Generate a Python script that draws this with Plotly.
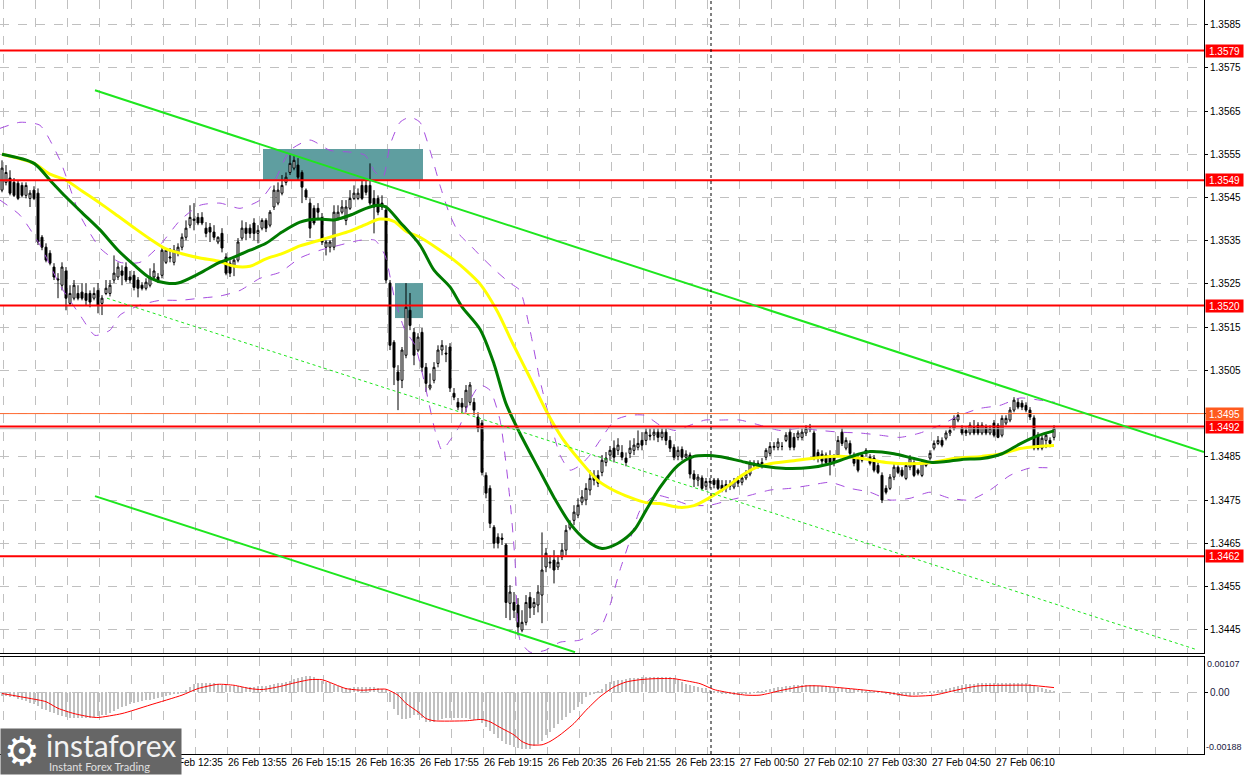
import plotly.graph_objects as go

# ------------------------------------------------------------------ data
bar_index = list(range(264))

opens = [
1.35467,1.35485,1.35495,1.35485,1.35483,1.35478,1.35455,1.35448,1.35467,1.3546,
1.35358,1.35335,1.35321,1.35289,1.35259,1.35247,1.3528,1.35205,1.35217,1.35228,
1.35231,1.35228,1.35228,1.35217,1.35235,1.35205,1.35228,1.35228,1.35259,1.35266,
1.3528,1.35289,1.35266,1.3527,1.35259,1.35247,1.3524,1.35247,1.35266,1.35266,
1.3527,1.353,1.3531,1.353,1.35321,1.35335,1.35358,1.35386,1.35397,1.35404,
1.35404,1.35379,1.35381,1.3537,1.35347,1.35367,1.35312,1.35298,1.35289,1.35305,
1.35356,1.35379,1.35379,1.35391,1.35367,1.35379,1.35397,1.35386,1.35428,1.35437,
1.3546,1.35485,1.35508,1.35518,1.35525,1.35508,1.35467,1.35437,1.35425,1.35425,
1.35404,1.35335,1.35335,1.35335,1.35402,1.35416,1.35397,1.35425,1.35448,1.35448,
1.35478,1.35478,1.35478,1.35448,1.35448,1.35437,1.35421,1.35252,1.35115,1.35046,
1.35027,1.35085,1.35189,1.35138,1.35097,1.35138,1.35057,1.35009,1.35027,1.35066,
1.35097,1.3509,1.35104,1.34997,1.34976,1.34974,1.34965,1.34976,1.34976,1.34942,
1.34928,1.34807,1.34777,1.34687,1.34664,1.34662,1.34646,1.34511,1.34513,1.34507,
1.34449,1.34467,1.34525,1.34502,1.34507,1.3453,1.34595,1.34604,1.34611,1.34595,
1.34618,1.34634,1.34685,1.34703,1.34715,1.34745,1.3475,1.34773,1.34807,1.34807,
1.34814,1.34837,1.34854,1.3487,1.34865,1.3486,1.34847,1.34858,1.34865,1.34872,
1.34888,1.34888,1.349,1.349,1.34907,1.34895,1.34907,1.34888,1.34872,1.34851,
1.34867,1.34849,1.34854,1.3481,1.34796,1.34801,1.34782,1.34791,1.34796,1.34796,
1.34784,1.34777,1.34786,1.3478,1.34796,1.34791,1.34801,1.3481,1.34835,1.34835,
1.34837,1.34849,1.34858,1.34872,1.34872,1.34874,1.34888,1.34907,1.34895,1.34895,
1.34895,1.34905,1.34914,1.34905,1.3486,1.34856,1.34854,1.34849,1.34849,1.34854,
1.34907,1.3487,1.34881,1.34854,1.34847,1.34854,1.34865,1.34849,1.34847,1.3483,
1.34807,1.34777,1.34777,1.34803,1.34826,1.34819,1.348,1.34826,1.34837,1.34819,
1.34807,1.3483,1.34847,1.3487,1.34881,1.34888,1.34893,1.34905,1.34916,1.34935,
1.34916,1.34911,1.34905,1.34918,1.34923,1.34905,1.34918,1.34905,1.34928,1.34923,
1.349,1.34928,1.34935,1.34958,1.34976,1.34974,1.34969,1.34958,1.3494,1.349,
1.3487,1.34888,1.34888,1.34895]

highs = [
1.35536,1.35525,1.35513,1.35495,1.3549,1.35485,1.35485,1.35467,1.35476,1.35471,
1.35363,1.35344,1.35328,1.35298,1.35275,1.353,1.35289,1.35247,1.35259,1.35247,
1.35252,1.35252,1.35235,1.35242,1.35252,1.35224,1.35259,1.35259,1.35316,1.353,
1.35293,1.353,1.3528,1.3528,1.35266,1.35254,1.35263,1.35286,1.35298,1.35275,
1.35333,1.35333,1.35333,1.3534,1.35344,1.35367,1.35397,1.35432,1.35437,1.35414,
1.35416,1.35393,1.35391,1.35386,1.3536,1.35379,1.35321,1.35305,1.35309,1.35356,
1.35397,1.35393,1.35388,1.35402,1.35386,1.35402,1.35402,1.35421,1.35478,1.35485,
1.35502,1.35508,1.35548,1.35548,1.35541,1.35513,1.35471,1.35448,1.35432,1.35437,
1.35414,1.35351,1.35351,1.35432,1.35432,1.35444,1.35444,1.35467,1.35478,1.35471,
1.3549,1.3549,1.35529,1.35467,1.35455,1.35455,1.35432,1.35259,1.3512,1.35062,
1.35104,1.35252,1.35229,1.35148,1.35136,1.35148,1.35067,1.35043,1.35069,1.35108,
1.3512,1.35108,1.35113,1.35009,1.34986,1.34986,1.35016,1.35023,1.34986,1.34953,
1.34935,1.34814,1.34784,1.34692,1.34673,1.34673,1.3465,1.34553,1.34537,1.34523,
1.34495,1.3453,1.34537,1.34523,1.34553,1.34675,1.34639,1.34622,1.34634,1.34622,
1.3465,1.34692,1.34703,1.34738,1.34754,1.34773,1.34789,1.34819,1.34819,1.34819,
1.34854,1.34861,1.34875,1.34888,1.34893,1.34877,1.3486,1.34888,1.34893,1.34911,
1.34907,1.34916,1.34916,1.34916,1.34916,1.34916,1.34916,1.34898,1.34879,1.34874,
1.34874,1.34865,1.3486,1.34819,1.3481,1.34807,1.34801,1.34801,1.34801,1.34801,
1.34796,1.34796,1.34796,1.34801,1.34805,1.34807,1.34819,1.34842,1.34842,1.34842,
1.34847,1.3487,1.34884,1.34884,1.34893,1.34884,1.34907,1.34916,1.34905,1.34911,
1.34916,1.34923,1.34926,1.34911,1.34867,1.34865,1.3486,1.34865,1.34856,1.34898,
1.34916,1.34895,1.34888,1.3486,1.34854,1.3486,1.3487,1.34856,1.34854,1.34837,
1.34814,1.34784,1.3481,1.34833,1.3483,1.34826,1.34837,1.34854,1.34842,1.34823,
1.34842,1.34842,1.34865,1.34888,1.34898,1.34895,1.34911,1.34921,1.34946,1.34953,
1.34923,1.34918,1.3493,1.34935,1.3493,1.3493,1.34925,1.34923,1.34935,1.34928,
1.34946,1.34946,1.34965,1.34988,1.34986,1.34981,1.34976,1.34965,1.34946,1.34907,
1.349,1.34907,1.34895,1.34923]

lows = [
1.35462,1.35478,1.35455,1.35451,1.35444,1.35451,1.35448,1.35428,1.35444,1.3534,
1.35328,1.353,1.35293,1.35259,1.35217,1.35235,1.35189,1.35201,1.35212,1.35212,
1.35212,1.35201,1.35196,1.35212,1.35182,1.35178,1.35224,1.35221,1.35252,1.35259,
1.35247,1.35254,1.35252,1.35235,1.35219,1.35235,1.35235,1.35242,1.35259,1.35252,
1.35263,1.35296,1.353,1.35293,1.35314,1.35328,1.35351,1.35379,1.35374,1.35386,
1.35386,1.35358,1.35347,1.35351,1.35342,1.35323,1.3527,1.35266,1.35268,1.353,
1.35351,1.35351,1.35356,1.35351,1.35344,1.35374,1.3537,1.35381,1.35421,1.35432,
1.35455,1.35478,1.35502,1.35513,1.3549,1.35437,1.35444,1.35356,1.35386,1.35397,
1.3534,1.35316,1.35323,1.35328,1.35397,1.35411,1.35386,1.35421,1.35444,1.35444,
1.35444,1.35455,1.35432,1.35367,1.35409,1.35421,1.35252,1.35097,1.35016,1.34958,
1.35009,1.35078,1.35143,1.35062,1.35092,1.35046,1.35,1.35004,1.3502,1.35057,
1.35085,1.35069,1.35,1.34981,1.34958,1.34953,1.34953,1.34969,1.34946,1.34907,
1.34807,1.34754,1.34685,1.34638,1.34638,1.34646,1.34477,1.34472,1.34477,1.34437,
1.34444,1.3446,1.34477,1.34484,1.3449,1.34465,1.34583,1.34592,1.34557,1.34588,
1.34611,1.34622,1.3468,1.34692,1.34708,1.34738,1.34738,1.34761,1.34784,1.3478,
1.34805,1.34828,1.34842,1.34837,1.34854,1.34842,1.34828,1.34847,1.34854,1.34865,
1.34865,1.34877,1.34888,1.34888,1.34884,1.34888,1.34877,1.34861,1.34842,1.34842,
1.34842,1.34847,1.348,1.3478,1.34782,1.34773,1.34773,1.34777,1.34777,1.34773,
1.34768,1.34768,1.34773,1.34775,1.3478,1.34784,1.34796,1.34805,1.34823,1.34823,
1.34823,1.34842,1.34851,1.34865,1.34865,1.34865,1.34884,1.34865,1.34865,1.34888,
1.34888,1.34898,1.34907,1.34842,1.34837,1.34833,1.3483,1.34807,1.34828,1.34849,
1.34875,1.34865,1.34851,1.34828,1.34814,1.34837,1.34851,1.3483,1.34814,1.3481,
1.34743,1.34763,1.34773,1.34796,1.3481,1.34803,1.34796,1.34819,1.34803,1.34807,
1.34803,1.34826,1.34842,1.34865,1.34877,1.34872,1.34888,1.34898,1.34911,1.3493,
1.349,1.34898,1.349,1.349,1.349,1.349,1.349,1.349,1.34895,1.34893,
1.34895,1.34923,1.3493,1.34953,1.3496,1.34958,1.34953,1.34935,1.34865,1.34865,
1.34865,1.3487,1.34872,1.34888]

closes = [
1.35518,1.35508,1.3546,1.35455,1.35448,1.35455,1.35478,1.3546,1.35448,1.35347,
1.35335,1.35305,1.35298,1.35266,1.35261,1.35289,1.35217,1.35228,1.35247,1.35217,
1.35217,1.35212,1.35208,1.35228,1.35201,1.35217,1.3524,1.35247,1.35275,1.35289,
1.3527,1.35259,1.35259,1.35242,1.3524,1.3524,1.35254,1.35266,1.3528,1.35259,
1.35328,1.35328,1.35312,1.35328,1.35335,1.35358,1.35379,1.35404,1.354,1.35391,
1.35391,1.35367,1.3537,1.35358,1.35358,1.35333,1.35275,1.35275,1.35305,1.35347,
1.35379,1.35367,1.35367,1.35367,1.35374,1.35397,1.35379,1.35416,1.35467,1.35467,
1.35478,1.35497,1.35529,1.35536,1.35497,1.35474,1.35451,1.35379,1.35391,1.35416,
1.35347,1.35347,1.35347,1.35416,1.35416,1.35428,1.35428,1.35448,1.3546,1.3546,
1.35448,1.35462,1.35437,1.35428,1.35416,1.35428,1.35259,1.35108,1.35057,1.35027,
1.35097,1.35196,1.35154,1.35085,1.35127,1.35057,1.3502,1.35016,1.35057,1.35097,
1.35108,1.35088,1.35009,1.34988,1.34965,1.34965,1.35004,1.35016,1.34958,1.34916,
1.34814,1.34766,1.34696,1.3465,1.3465,1.34659,1.34513,1.34537,1.34495,1.34456,
1.34467,1.34513,1.345,1.34513,1.34537,1.34588,1.34627,1.34606,1.34588,1.34606,
1.34634,1.3468,1.34696,1.34722,1.34738,1.34757,1.34777,1.348,1.34796,1.34789,
1.34842,1.34847,1.34865,1.34849,1.34877,1.34849,1.34837,1.3487,1.34877,1.34881,
1.34877,1.34907,1.34898,1.34907,1.34895,1.34907,1.34888,1.3487,1.34849,1.34865,
1.34849,1.34856,1.3481,1.34798,1.34803,1.34777,1.34793,1.34793,1.34786,1.34777,
1.34775,1.34786,1.34782,1.34793,1.34789,1.34801,1.3481,1.34835,1.3483,1.34828,
1.3483,1.34865,1.34874,1.34874,1.34884,1.34874,1.349,1.34872,1.34872,1.34905,
1.34907,1.34916,1.34916,1.34847,1.34847,1.3484,1.34837,1.34837,1.34837,1.34888,
1.34881,1.34888,1.34858,1.34835,1.34819,1.34842,1.34858,1.34835,1.34819,1.34814,
1.3475,1.34768,1.34803,1.34826,1.34814,1.34807,1.3483,1.34847,1.34807,1.34812,
1.34837,1.34837,1.34858,1.34881,1.34888,1.34877,1.34905,1.34911,1.34939,1.34946,
1.34905,1.34905,1.34923,1.34905,1.34905,1.34923,1.34905,1.34916,1.349,1.34895,
1.34939,1.34939,1.34958,1.34981,1.34965,1.34965,1.34958,1.34942,1.3487,1.3487,
1.34893,1.349,1.34881,1.34916]

# moving averages (bar index, price)
ma_green_idx = [0,8,12,16,20,24.5,29,33,37,41,44,49.5,54,58,62,66,70,74.5,79,83,87,91,94,96,99.5,
                104.5,108,112,115,119.5,123,126,129.5,134,138,142,146,150,154,158,161,164.5,169,173,177,
                181,186,190.5,196,202,207,211.5,217,223,228,232.5,236,240,245,250,254.5,259,263]
ma_green_val = [1.3555,1.35529,1.3549,1.35451,1.35415,1.35375,1.35328,1.35294,1.35264,1.35252,
                1.35252,1.35275,1.35298,1.35312,1.35328,1.35344,1.3537,1.35393,1.354,1.35398,
                1.35409,1.35425,1.35432,1.35428,1.35393,1.3534,1.35282,1.35243,1.35197,1.35145,
                1.35065,1.34973,1.34904,1.34825,1.34756,1.34696,1.34657,1.34638,1.3465,1.3468,
                1.34726,1.34779,1.3483,1.34851,1.34853,1.34848,1.34837,1.34828,1.34823,1.34825,
                1.34834,1.34848,1.34862,1.34857,1.34846,1.34837,1.34839,1.34844,1.34846,1.34857,
                1.3488,1.34899,1.3491]
ma_yellow_idx = [0,8,12,16,20,24.5,29,33,37,41,45,49.5,54,58,62,66,70,74.5,79,83,87,91,94.5,98,101,
                 104.5,109.5,113,116,119.5,123.75,127.75,132,136,140,144.5,149,153,157,161,164.5,169.5,
                 173,177,181,185,188.5,192,198,204,209.5,215,221,227,232.5,238,245,250,254.5,259,263]
ma_yellow_val = [1.3555,1.35529,1.35504,1.3549,1.35465,1.35437,1.35407,1.3538,1.35354,1.35331,
                 1.3532,1.3531,1.35303,1.35291,1.35291,1.35308,1.3532,1.35338,1.3535,1.35361,
                 1.35372,1.35388,1.354,1.35395,1.35372,1.35358,1.35328,1.35305,1.35282,1.3525,
                 1.35188,1.35111,1.35033,1.34957,1.34894,1.34841,1.34795,1.34772,1.34756,1.34744,
                 1.34742,1.34733,1.34737,1.34756,1.34779,1.34807,1.34825,1.34834,1.34841,1.34848,
                 1.34851,1.34846,1.34837,1.34834,1.34837,1.34846,1.34851,1.34857,1.34869,1.34874,
                 1.34876]

# Bollinger envelope
bb_up_idx = [-0.5,4.5,9.5,14.5,19.5,24.5,29.5,34.5,39.5,44.5,49.5,54.5,59.5,64.5,68.25,72,77,82,87,
             90.75,93.25,95.25,97,99.5,102,104.5,107,109.5,112,114.5,117,119.5,123.25,127,129.5,132,
             134.5,137,139.5,142,144.5,147,149.5,153.25,157,160.75,164.5,168.25,172,175.75,179.5,
             184.5,189.5,194.5,199.5,204.5,209.5,214.5,219.5,224.5,229.5,234.5,239.5,244.5,249.5,
             254.5,259.5,263.25]
bb_up_val = [1.3561,1.35624,1.35617,1.35536,1.35409,1.35333,1.353,1.353,1.3534,1.35397,1.35432,
             1.35437,1.35425,1.35444,1.3549,1.35559,1.35583,1.35559,1.35555,1.35548,1.35509,1.35497,
             1.35571,1.35624,1.35636,1.35624,1.35559,1.35478,1.35409,1.35363,1.3534,1.35316,1.35282,
             1.35252,1.35235,1.35143,1.35027,1.34935,1.34854,1.34819,1.3483,1.34854,1.34888,1.34935,
             1.34946,1.34946,1.34923,1.34911,1.34923,1.34935,1.34935,1.34935,1.34923,1.34911,1.34916,
             1.34911,1.34907,1.34905,1.349,1.34895,1.34905,1.34923,1.34946,1.34962,1.34969,1.34986,
             1.34981,1.34976]
bb_lo_idx = [-0.5,4.5,9.5,14.5,19.5,23.25,27,29.5,34.5,39.5,44.5,49.5,54.5,59.5,64.5,69.5,74.5,79.5,
             84.5,89.5,93.25,95.75,98.25,100.75,103.25,105.75,108.25,110,112,114.5,117,119.5,122,
             124.5,127,128.25,129.5,132,135.75,139.5,144.5,149.5,152,154.5,157,159.5,163.25,167,172,
             177,182,187,192,197,202,207,212,217,222,227,232,237,242,247,252,257,263.25]
bb_lo_val = [1.35444,1.35409,1.3534,1.35247,1.35178,1.35131,1.35143,1.35178,1.35201,1.35212,1.35212,
             1.35217,1.35222,1.35235,1.35263,1.35277,1.3531,1.35328,1.3534,1.35351,1.35351,1.35316,
             1.35212,1.35143,1.35108,1.35016,1.34911,1.34865,1.34888,1.34923,1.34981,1.35016,1.35004,
             1.34935,1.3475,1.34611,1.34426,1.34398,1.34402,1.34421,1.34426,1.34453,1.34507,1.34588,
             1.34657,1.34726,1.34761,1.34754,1.34738,1.34738,1.3475,1.34761,1.34773,1.34777,1.34784,
             1.34791,1.34777,1.34768,1.3475,1.34754,1.34768,1.34754,1.3475,1.34773,1.34807,1.34824,
             1.34824]

# MACD panel
macd_hist = [
-0.00013,-0.00013,-0.00014,-0.00016,-0.0002,-0.00024,-0.00028,-0.00032,-0.00037,-0.00043,
-0.0005,-0.00054,-0.00059,-0.00064,-0.00068,-0.00071,-0.00074,-0.00077,-0.00079,-0.0008,
-0.0008,-0.0008,-0.00079,-0.00076,-0.00073,-0.0007,-0.00069,-0.00063,-0.00057,-0.00051,
-0.00046,-0.00041,-0.00037,-0.00033,-0.0003,-0.00027,-0.00025,-0.00023,-0.0002,-0.00017,
-0.00014,-0.00012,-0.0001,-0.00007,-0.00004,0.0,0.00008,0.00016,0.00024,0.00027,
0.00028,0.00029,0.00029,0.00027,0.00025,0.00023,0.00022,0.0002,0.00019,0.00018,
0.00017,0.00017,0.00017,0.00017,0.00018,0.00019,0.0002,0.00022,0.00024,0.00027,
0.00029,0.00032,0.00035,0.00039,0.00043,0.00047,0.00048,0.00049,0.00045,0.00041,
0.00035,0.00031,0.00027,0.00023,0.00019,0.00015,0.00012,0.00014,0.00016,0.00017,
0.00017,0.00016,0.00016,0.00015,0.00013,0.00011,0.00008,-0.0003,-0.0005,-0.0007,
-0.00081,-0.00081,-0.0008,-0.0007,-0.0007,-0.00078,-0.0009,-0.00091,-0.0009,-0.00084,
-0.00081,-0.0008,-0.00078,-0.00078,-0.00078,-0.00078,-0.00079,-0.00083,-0.00086,-0.00086,
-0.00094,-0.00106,-0.00118,-0.00128,-0.00138,-0.00148,-0.00157,-0.00162,-0.00167,-0.00171,
-0.00174,-0.00174,-0.00172,-0.00164,-0.00157,-0.00148,-0.00131,-0.00122,-0.00108,-0.00096,
-0.00085,-0.00076,-0.00064,-0.00054,-0.00045,-0.00035,-0.00016,-0.0001,-0.00004,0.00004,
0.0001,0.00025,0.0003,0.00035,0.00037,0.00038,0.0004,0.00042,0.00043,0.00044,
0.00045,0.00045,0.00045,0.00046,0.00046,0.00045,0.00045,0.00045,0.00044,0.00038,
0.0003,0.00026,0.00022,0.0002,0.00017,0.00014,0.00012,0.00008,0.00004,0.00001,
-0.00003,-0.00005,-0.00007,-0.00008,-0.00008,-0.00007,-0.00005,-0.00003,-0.00001,0.00002,
0.00004,0.00007,0.0001,0.00013,0.00015,0.00017,0.00019,0.0002,0.00021,0.00022,
0.00022,0.00022,0.00022,0.00021,0.0002,0.00018,0.00017,0.00015,0.00014,0.00013,
0.00012,0.00011,0.0001,0.00009,0.00007,0.00006,0.00005,0.00004,0.00002,0.00001,
-0.00002,-0.00005,-0.00008,-0.0001,-0.00012,-0.00013,-0.00013,-0.00012,-0.0001,-0.00008,
-0.00005,-0.00002,0.00001,0.00003,0.00006,0.00008,0.00011,0.00014,0.00017,0.0002,
0.00022,0.00024,0.00025,0.00026,0.00027,0.00027,0.00027,0.00027,0.00027,0.00027,
0.00027,0.00028,0.00028,0.00028,0.00028,0.00028,0.00027,0.00025,0.00022,0.00017,
0.00013,0.0001,0.00006,0.00003]
macd_sig_idx = [0,7,11,14,18,22,24,30,37,45,49,54,58,62,65,69,73,77,80,86,90,94,96,99,101,104,106,108,
                116,120,122,124.5,128,130,132,135,137,139.5,143,146,149.5,153,156,159.5,163,168,169.5,
                174.5,178,182,186,189.5,195,201,204.5,210,216,221.5,227,233,238.5,244,251.5,257,263]
macd_sig_val = [-0.00004,-0.00019,-0.00029,-0.00049,-0.00065,-0.00075,-0.00077,-0.00065,-0.00039,-0.00009,
                0.00011,0.00024,0.00021,0.00011,0.00008,0.00016,0.00028,0.00038,0.00038,0.00011,
                0.00006,0.00009,0.00009,-0.00009,-0.00034,-0.0006,-0.0008,-0.00087,-0.00087,-0.00083,
                -0.0009,-0.00107,-0.0013,-0.0015,-0.0016,-0.0016,-0.0015,-0.0013,-0.00095,-0.00055,
                -0.00014,0.00016,0.00031,0.00038,0.00041,0.00041,0.00038,0.00026,0.00008,-0.00002,
                -0.00009,-0.00009,0.00006,0.00019,0.00019,0.00013,0.00006,-0.00001,-0.00012,-0.00009,
                0.00006,0.00019,0.00021,0.00021,0.00014]

# horizontal levels and labels
level_prices = [1.3579, 1.3549, 1.3520, 1.3492, 1.3462]
level_labels = ["1.3579", "1.3549", "1.3520", "1.3492", "1.3462"]
bid_price = 1.3495
bid_label = "1.3495"
ask_price = 1.34915

price_ticks = [1.3445, 1.3455, 1.3465, 1.3475, 1.3485, 1.3495, 1.3505, 1.3515,
               1.3525, 1.3535, 1.3545, 1.3555, 1.3565, 1.3575, 1.3585]
price_tick_text = ["1.3445", "1.3455", "1.3465", "1.3475", "1.3485", "", "1.3505", "1.3515",
                   "1.3525", "1.3535", "1.3545", "1.3555", "1.3565", "1.3575", "1.3585"]
macd_top, macd_bottom = 0.00107, -0.00188

time_tick_idx = [40.25, 56.25, 72.25, 88.25, 104.25, 120.25, 136.25, 152.25,
                 168.25, 184.25, 200.25, 216.25, 232.25, 248.25]
time_labels = ["26 Feb 12:35", "26 Feb 13:55", "26 Feb 15:15", "26 Feb 16:35", "26 Feb 17:55",
               "26 Feb 19:15", "26 Feb 20:35", "26 Feb 21:55", "26 Feb 23:15", "27 Feb 00:50",
               "27 Feb 02:10", "27 Feb 03:30", "27 Feb 04:50", "27 Feb 06:10"]
day_separator_idx = 177.25

# zones (x0, x1, price top, price bottom)
zone_x0 = [65.25, 98.25]
zone_x1 = [105.25, 105.25]
zone_top = [1.35562, 1.35252]
zone_bot = [1.3549, 1.35171]

# trend lines (x0, y0, x1, y1)
trend_upper = (23.25, 1.35698, 300.5, 1.34861)
trend_lower = (23.25, 1.34759, 143.25, 1.34398)
trend_dotted = (26.25, 1.35217, 298.25, 1.34405)

# ------------------------------------------------------------------ layout constants
W, H = 1244, 775
ML, MR, MT, MB = 0, 40, 0, 21
PH = H - MT - MB  # 754
main_dom = [101 / PH, 1.0]
macd_dom = [0.0, 97 / PH]
X_RANGE = [-0.5, 300.5]
grid_x = [0.25 + 8 * k for k in range(38)]
GRID = "#c0c0c0"
FONT = "Liberation Sans"

fig = go.Figure()

# Bollinger bands
for xs, ys in ((bb_up_idx, bb_up_val), (bb_lo_idx, bb_lo_val)):
    fig.add_trace(go.Scatter(x=xs, y=ys, mode="lines", line=dict(color="#a64ddf", width=1, dash="dash",
                             shape="spline", smoothing=0.6), hoverinfo="skip", showlegend=False))

# candles
fig.add_trace(go.Candlestick(
    x=bar_index, open=opens, high=highs, low=lows, close=closes,
    increasing=dict(line=dict(color="black", width=1), fillcolor="white"),
    decreasing=dict(line=dict(color="black", width=1), fillcolor="black"),
    whiskerwidth=0, hoverinfo="skip", showlegend=False))

# moving averages
fig.add_trace(go.Scatter(x=ma_yellow_idx, y=ma_yellow_val, mode="lines",
                         line=dict(color="#ffff00", width=3, shape="spline", smoothing=0.8),
                         hoverinfo="skip", showlegend=False))
fig.add_trace(go.Scatter(x=ma_green_idx, y=ma_green_val, mode="lines",
                         line=dict(color="#007a00", width=3, shape="spline", smoothing=0.8),
                         hoverinfo="skip", showlegend=False))

# MACD
fig.add_trace(go.Bar(x=bar_index, y=macd_hist, width=0.5, marker=dict(color="#c0c0c0", line=dict(width=0)),
                     xaxis="x2", yaxis="y2", hoverinfo="skip", showlegend=False))
fig.add_trace(go.Scatter(x=macd_sig_idx, y=macd_sig_val, mode="lines",
                         line=dict(color="#ff0000", width=1, shape="spline", smoothing=0.6),
                         xaxis="x2", yaxis="y2", hoverinfo="skip", showlegend=False))

shapes = []
for x0, x1, yt, yb in zip(zone_x0, zone_x1, zone_top, zone_bot):
    shapes.append(dict(type="rect", xref="x", yref="y", x0=x0, x1=x1, y0=yb, y1=yt,
                       fillcolor="#5f9ea0", line=dict(width=0), layer="between"))
shapes.append(dict(type="line", xref="paper", yref="y", x0=0, x1=1, y0=bid_price, y1=bid_price,
                   line=dict(color="#ff6a30", width=1), layer="above"))
shapes.append(dict(type="line", xref="paper", yref="y", x0=0, x1=1, y0=ask_price, y1=ask_price,
                   line=dict(color="#b0b0b0", width=1), layer="above"))
for p in level_prices:
    shapes.append(dict(type="line", xref="paper", yref="y", x0=0, x1=1, y0=p, y1=p,
                       line=dict(color="#ff0000", width=2), layer="above"))
for (x0, y0, x1, y1), dash, w in ((trend_upper, "solid", 2), (trend_lower, "solid", 2),
                                  (trend_dotted, "dot", 1)):
    shapes.append(dict(type="line", xref="x", yref="y", x0=x0, y0=y0, x1=x1, y1=y1,
                       line=dict(color="#1ee61e", width=w, dash=dash), layer="above"))
shapes.append(dict(type="line", xref="x", yref="paper", x0=day_separator_idx, x1=day_separator_idx,
                   y0=0, y1=1, line=dict(color="black", width=1, dash="dot"), layer="above"))

annotations = []
for p, t in zip(level_prices, level_labels):
    annotations.append(dict(xref="paper", x=1, xanchor="left", xshift=1, yref="y", y=p, yanchor="middle",
                            text=t, showarrow=False, bgcolor="#ff0000", width=37, height=12, borderpad=0,
                            font=dict(color="white", size=10, family=FONT)))
annotations.append(dict(xref="paper", x=1, xanchor="left", xshift=1, yref="y", y=bid_price, yanchor="middle",
                        text=bid_label, showarrow=False, bgcolor="#ff5a1e", width=37, height=12, borderpad=0,
                        font=dict(color="white", size=10, family=FONT)))
annotations.append(dict(xref="paper", x=1, xanchor="left", xshift=1, yref="paper", y=macd_dom[1],
                        yanchor="top", text="0.00107", showarrow=False,
                        font=dict(color="#202040", size=9, family=FONT)))
annotations.append(dict(xref="paper", x=1, xanchor="left", xshift=0, yref="paper", y=0,
                        yanchor="bottom", text="-0.00188", showarrow=False,
                        font=dict(color="#202040", size=9, family=FONT)))
for xi, t in zip(time_tick_idx, time_labels):
    annotations.append(dict(xref="x2", x=xi, xanchor="left", xshift=-1, yref="paper", y=0, yanchor="top",
                            yshift=-1, text=t, showarrow=False, font=dict(color="black", size=10, family=FONT)))
# logo
bottom_paper = -MB / PH
annotations.append(dict(xref="paper", x=0, xanchor="left", yref="paper", y=bottom_paper, yanchor="bottom",
                        text=" ", showarrow=False, bgcolor="#666666", width=180, height=45, borderpad=0))
annotations.append(dict(xref="paper", x=22 / 1204, xanchor="center", yref="paper", y=(PH - 751) / PH,
                        yanchor="middle", text="⚙", showarrow=False,
                        font=dict(color="white", size=40, family="DejaVu Sans")))
annotations.append(dict(xref="paper", x=44 / 1204, xanchor="left", yref="paper", y=(PH - 745) / PH,
                        yanchor="middle", text="instaforex", showarrow=False,
                        font=dict(color="#f2f2f2", size=30, family="Lato")))
annotations.append(dict(xref="paper", x=47 / 1204, xanchor="left", yref="paper", y=(PH - 766) / PH,
                        yanchor="middle", text="Instant Forex Trading", showarrow=False,
                        font=dict(color="#e0e0e0", size=11, family="Lato")))

axis_common = dict(showgrid=True, gridcolor=GRID, griddash="dash", gridwidth=1, zeroline=False,
                   automargin=False, fixedrange=True)

fig.update_layout(
    template="none",
    width=W, height=H, margin=dict(l=ML, r=MR, t=MT, b=MB, pad=0),
    paper_bgcolor="white", plot_bgcolor="white", showlegend=False, bargap=0,
    xaxis=dict(domain=[0, 1], range=X_RANGE, anchor="y", tickmode="array", tickvals=grid_x,
               showticklabels=False, ticks="", showline=True, linecolor="black", linewidth=1,
               rangeslider=dict(visible=False), **axis_common),
    xaxis2=dict(domain=[0, 1], range=X_RANGE, anchor="y2", matches="x", tickmode="array", tickvals=grid_x,
                showticklabels=False, ticks="", showline=True, mirror=True, linecolor="black",
                linewidth=1, **axis_common),
    yaxis=dict(domain=main_dom, range=[1.34396, 1.35907], anchor="x", side="right",
               tickmode="array", tickvals=price_ticks, ticktext=price_tick_text,
               ticks="outside", ticklen=3, tickcolor="black", showline=True, linecolor="black",
               linewidth=1, tickfont=dict(color="black", size=10, family=FONT), **axis_common),
    yaxis2=dict(domain=macd_dom, range=[macd_bottom, macd_top], anchor="x2", side="right",
                tickmode="array", tickvals=[0], ticktext=["0.00"], ticks="outside", ticklen=3,
                tickcolor="black", showline=True, linecolor="black", linewidth=1,
                tickfont=dict(color="#202040", size=10, family=FONT), **axis_common),
    shapes=shapes,
    annotations=annotations,
)

fig.write_html("out.html", config={"displayModeBar": False},
               post_script="document.body.style.margin='0px';document.body.style.overflow='hidden';")
